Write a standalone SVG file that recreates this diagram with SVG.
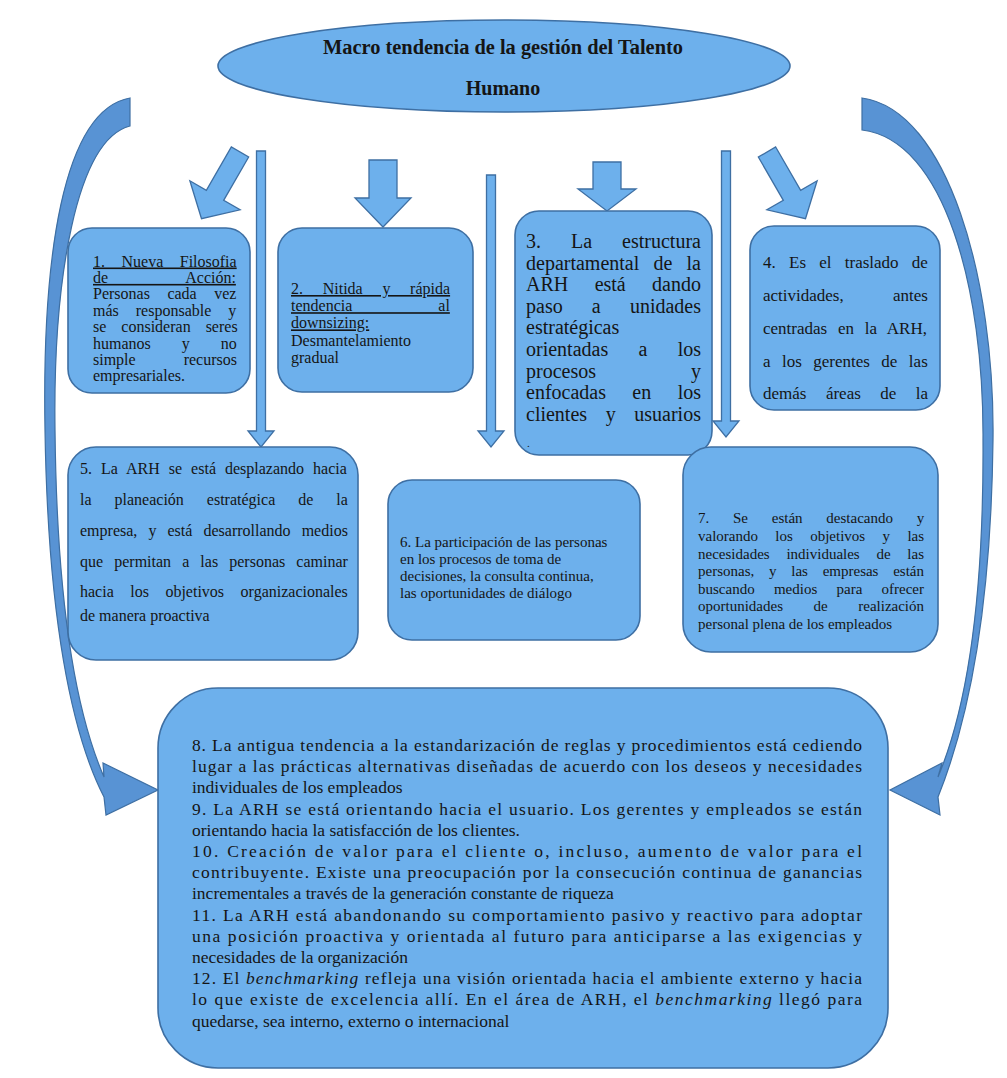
<svg xmlns="http://www.w3.org/2000/svg" width="1007" height="1078" viewBox="0 0 1007 1078">
<style>
.bg{fill:#ffffff}
.box{fill:#6DB0EC;stroke:#3E6FA3;stroke-width:1.6}
.arr{fill:#6DB0EC;stroke:#3E6FA3;stroke-width:1.3}
.arc{fill:#5893D4;stroke:#3E6FA3;stroke-width:1.2}
.t{font-family:"Liberation Serif","Times New Roman",serif;fill:#151515}
.ti{font-style:italic}
</style>
<rect class="bg" x="0" y="0" width="1007" height="1078"/>
<g id="connectors">
  <path id="arc-left" class="arc" d="M130,98 C62,110 42,260 45,430 C48,620 72,735 104,797 L106,815 L158,790 L103,763 L104,777 C80,722 57,620 55,430 C53,280 76,140 130,126 Z"/>
  <path id="arc-right" class="arc" d="M862,98 C948,110 995,280 993,440 C991,620 965,730 938,797 L940,815 L890,790 L942,763 L938,777 C962,720 984,620 983,440 C984,290 945,140 862,130 Z"/>
  <polygon id="arr-diag-left" class="arr" transform="translate(240,152) rotate(120)" points="0,-10 50,-10 50,-29 77,0 50,29 50,10 0,10"/>
  <polygon id="arr-diag-right" class="arr" transform="translate(767,152) rotate(60)" points="0,-10 50,-10 50,-29 77,0 50,29 50,10 0,10"/>
  <polygon id="arr-box2" class="arr" points="369,160 397,160 397,198 411,198 383,227 355,198 369,198"/>
  <polygon id="arr-box3" class="arr" points="593,162 621,162 621,189 636,189 607,211 578,189 593,189"/>
  <polygon id="arr-a" class="arr" points="256.5,151 265.5,151 265.5,431 274,431 261,447 248,431 256.5,431"/>
  <polygon id="arr-b" class="arr" points="486.5,175 495.5,175 495.5,431 504,431 491,447 478,431 486.5,431"/>
  <polygon id="arr-c" class="arr" points="721.5,151 730.5,151 730.5,421 739,421 726,437 713,421 721.5,421"/>
</g>
<g id="title">
  <ellipse class="box" cx="504" cy="66" rx="286" ry="46"/>
  <text class="t" x="503" y="54" font-size="20" font-weight="bold" text-anchor="middle" textLength="360" lengthAdjust="spacingAndGlyphs">Macro tendencia de la gestión del Talento</text>
  <text class="t" x="503" y="95" font-size="20" font-weight="bold" text-anchor="middle">Humano</text>
</g>
<g id="node1">
  <rect class="box" x="68" y="228" width="182" height="165" rx="24"/>
  <g class="t" font-size="16">
    <text x="93" y="266.5" text-decoration="underline" style="word-spacing:12.5px">1. Nueva Filosofia</text>
    <text x="93" y="282.9" text-decoration="underline" style="word-spacing:74px">de Acción:</text>
    <text x="93" y="299.3" style="word-spacing:13.5px">Personas cada vez</text>
    <text x="93" y="315.7" style="word-spacing:13px">más responsable y</text>
    <text x="93" y="332.1" style="word-spacing:11px">se consideran seres</text>
    <text x="93" y="348.5" style="word-spacing:27px">humanos y no</text>
    <text x="93" y="364.9" style="word-spacing:44px">simple recursos</text>
    <text x="93" y="381.3">empresariales.</text>
  </g>
</g>
<g id="node2">
  <rect class="box" x="278" y="228" width="195" height="164" rx="24"/>
  <g class="t" font-size="16">
    <text x="291" y="294" text-decoration="underline" style="word-spacing:15.7px">2. Nitida y rápida</text>
    <text x="291" y="311.2" text-decoration="underline" style="word-spacing:82px">tendencia al</text>
    <text x="291" y="328.4" text-decoration="underline">downsizing:</text>
    <text x="291" y="345.6">Desmantelamiento</text>
    <text x="291" y="362.8">gradual</text>
  </g>
</g>
<g id="node3">
  <rect class="box" x="515" y="211" width="197" height="244" rx="24"/>
  <g class="t" font-size="20">
    <text x="526" y="248" style="word-spacing:25px">3. La estructura</text>
    <text x="526" y="269.6" style="word-spacing:9.2px">departamental de la</text>
    <text x="526" y="291.2" style="word-spacing:21.4px">ARH está dando</text>
    <text x="526" y="312.8" style="word-spacing:24.2px">paso a unidades</text>
    <text x="526" y="334.4">estratégicas</text>
    <text x="526" y="356" style="word-spacing:25.3px">orientadas a los</text>
    <text x="526" y="377.6" style="word-spacing:90px">procesos y</text>
    <text x="526" y="399.2" style="word-spacing:21.4px">enfocadas en los</text>
    <text x="526" y="420.8" style="word-spacing:13.6px">clientes y usuarios</text>
    <text x="527" y="447" font-size="11">.</text>
  </g>
</g>
<g id="node4">
  <rect class="box" x="750" y="226" width="190" height="184" rx="24"/>
  <g class="t" font-size="17">
    <text x="763" y="268" style="word-spacing:9px">4. Es el traslado de</text>
    <text x="763" y="301" style="word-spacing:45px">actividades, antes</text>
    <text x="763" y="334" style="word-spacing:6.5px">centradas en la ARH,</text>
    <text x="763" y="367" style="word-spacing:7.2px">a los gerentes de las</text>
    <text x="763" y="399" style="word-spacing:15.2px">demás áreas de la</text>
  </g>
</g>
<g id="node5">
  <rect class="box" x="68" y="447" width="290" height="213" rx="28"/>
  <g class="t" font-size="16">
    <text x="80" y="474" style="word-spacing:5px">5. La ARH se está desplazando hacia</text>
    <text x="80" y="505" style="word-spacing:19px">la planeación estratégica de la</text>
    <text x="80" y="536" style="word-spacing:7.1px">empresa, y está desarrollando medios</text>
    <text x="80" y="567" style="word-spacing:7.1px">que permitan a las personas caminar</text>
    <text x="80" y="597" style="word-spacing:12.5px">hacia los objetivos organizacionales</text>
    <text x="80" y="621">de manera proactiva</text>
  </g>
</g>
<g id="node6">
  <rect class="box" x="388" y="480" width="252" height="160" rx="24"/>
  <g class="t" font-size="15">
    <text x="400" y="547">6. La participación de las personas</text>
    <text x="400" y="564">en los procesos de toma de</text>
    <text x="400" y="581">decisiones, la consulta continua,</text>
    <text x="400" y="598">las oportunidades de diálogo</text>
  </g>
</g>
<g id="node7">
  <rect class="box" x="683" y="447" width="255" height="205" rx="28"/>
  <g class="t" font-size="15">
    <text x="698" y="523" style="word-spacing:20px">7. Se están destacando y</text>
    <text x="698" y="541" style="word-spacing:13.6px">valorando los objetivos y las</text>
    <text x="698" y="558.5" style="word-spacing:13px">necesidades individuales de las</text>
    <text x="698" y="576" style="word-spacing:11px">personas, y las empresas están</text>
    <text x="698" y="593.5" style="word-spacing:15.5px">buscando medios para ofrecer</text>
    <text x="698" y="611" style="word-spacing:26.8px">oportunidades de realización</text>
    <text x="698" y="629">personal plena de los empleados</text>
  </g>
</g>
<g id="node8">
  <rect class="box" x="158" y="688" width="730" height="380" rx="60"/>
  <g class="t" font-size="17.5">
    <text x="192" y="751" textLength="670" lengthAdjust="spacing">8. La antigua tendencia a la estandarización de reglas y procedimientos está cediendo</text>
    <text x="192" y="772.2" textLength="670" lengthAdjust="spacing">lugar a las prácticas alternativas diseñadas de acuerdo con los deseos y necesidades</text>
    <text x="192" y="793.4">individuales de los empleados</text>
    <text x="192" y="814.6" textLength="670" lengthAdjust="spacing">9. La ARH se está orientando hacia el usuario. Los gerentes y empleados se están</text>
    <text x="192" y="835.8">orientando hacia la satisfacción de los clientes.</text>
    <text x="192" y="857" textLength="670" lengthAdjust="spacing">10. Creación de valor para el cliente o, incluso, aumento de valor para el</text>
    <text x="192" y="878.2" textLength="670" lengthAdjust="spacing">contribuyente. Existe una preocupación por la consecución continua de ganancias</text>
    <text x="192" y="899.4">incrementales a través de la generación constante de riqueza</text>
    <text x="192" y="920.6" textLength="670" lengthAdjust="spacing">11. La ARH está abandonando su comportamiento pasivo y reactivo para adoptar</text>
    <text x="192" y="941.8" textLength="670" lengthAdjust="spacing">una posición proactiva y orientada al futuro para anticiparse a las exigencias y</text>
    <text x="192" y="963">necesidades de la organización</text>
    <text x="192" y="984.2" textLength="670" lengthAdjust="spacing">12. El <tspan class="ti">benchmarking</tspan> refleja una visión orientada hacia el ambiente externo y hacia</text>
    <text x="192" y="1005.4" textLength="670" lengthAdjust="spacing">lo que existe de excelencia allí. En el área de ARH, el <tspan class="ti">benchmarking</tspan> llegó para</text>
    <text x="192" y="1026.6">quedarse, sea interno, externo o internacional</text>
  </g>
</g>
</svg>
